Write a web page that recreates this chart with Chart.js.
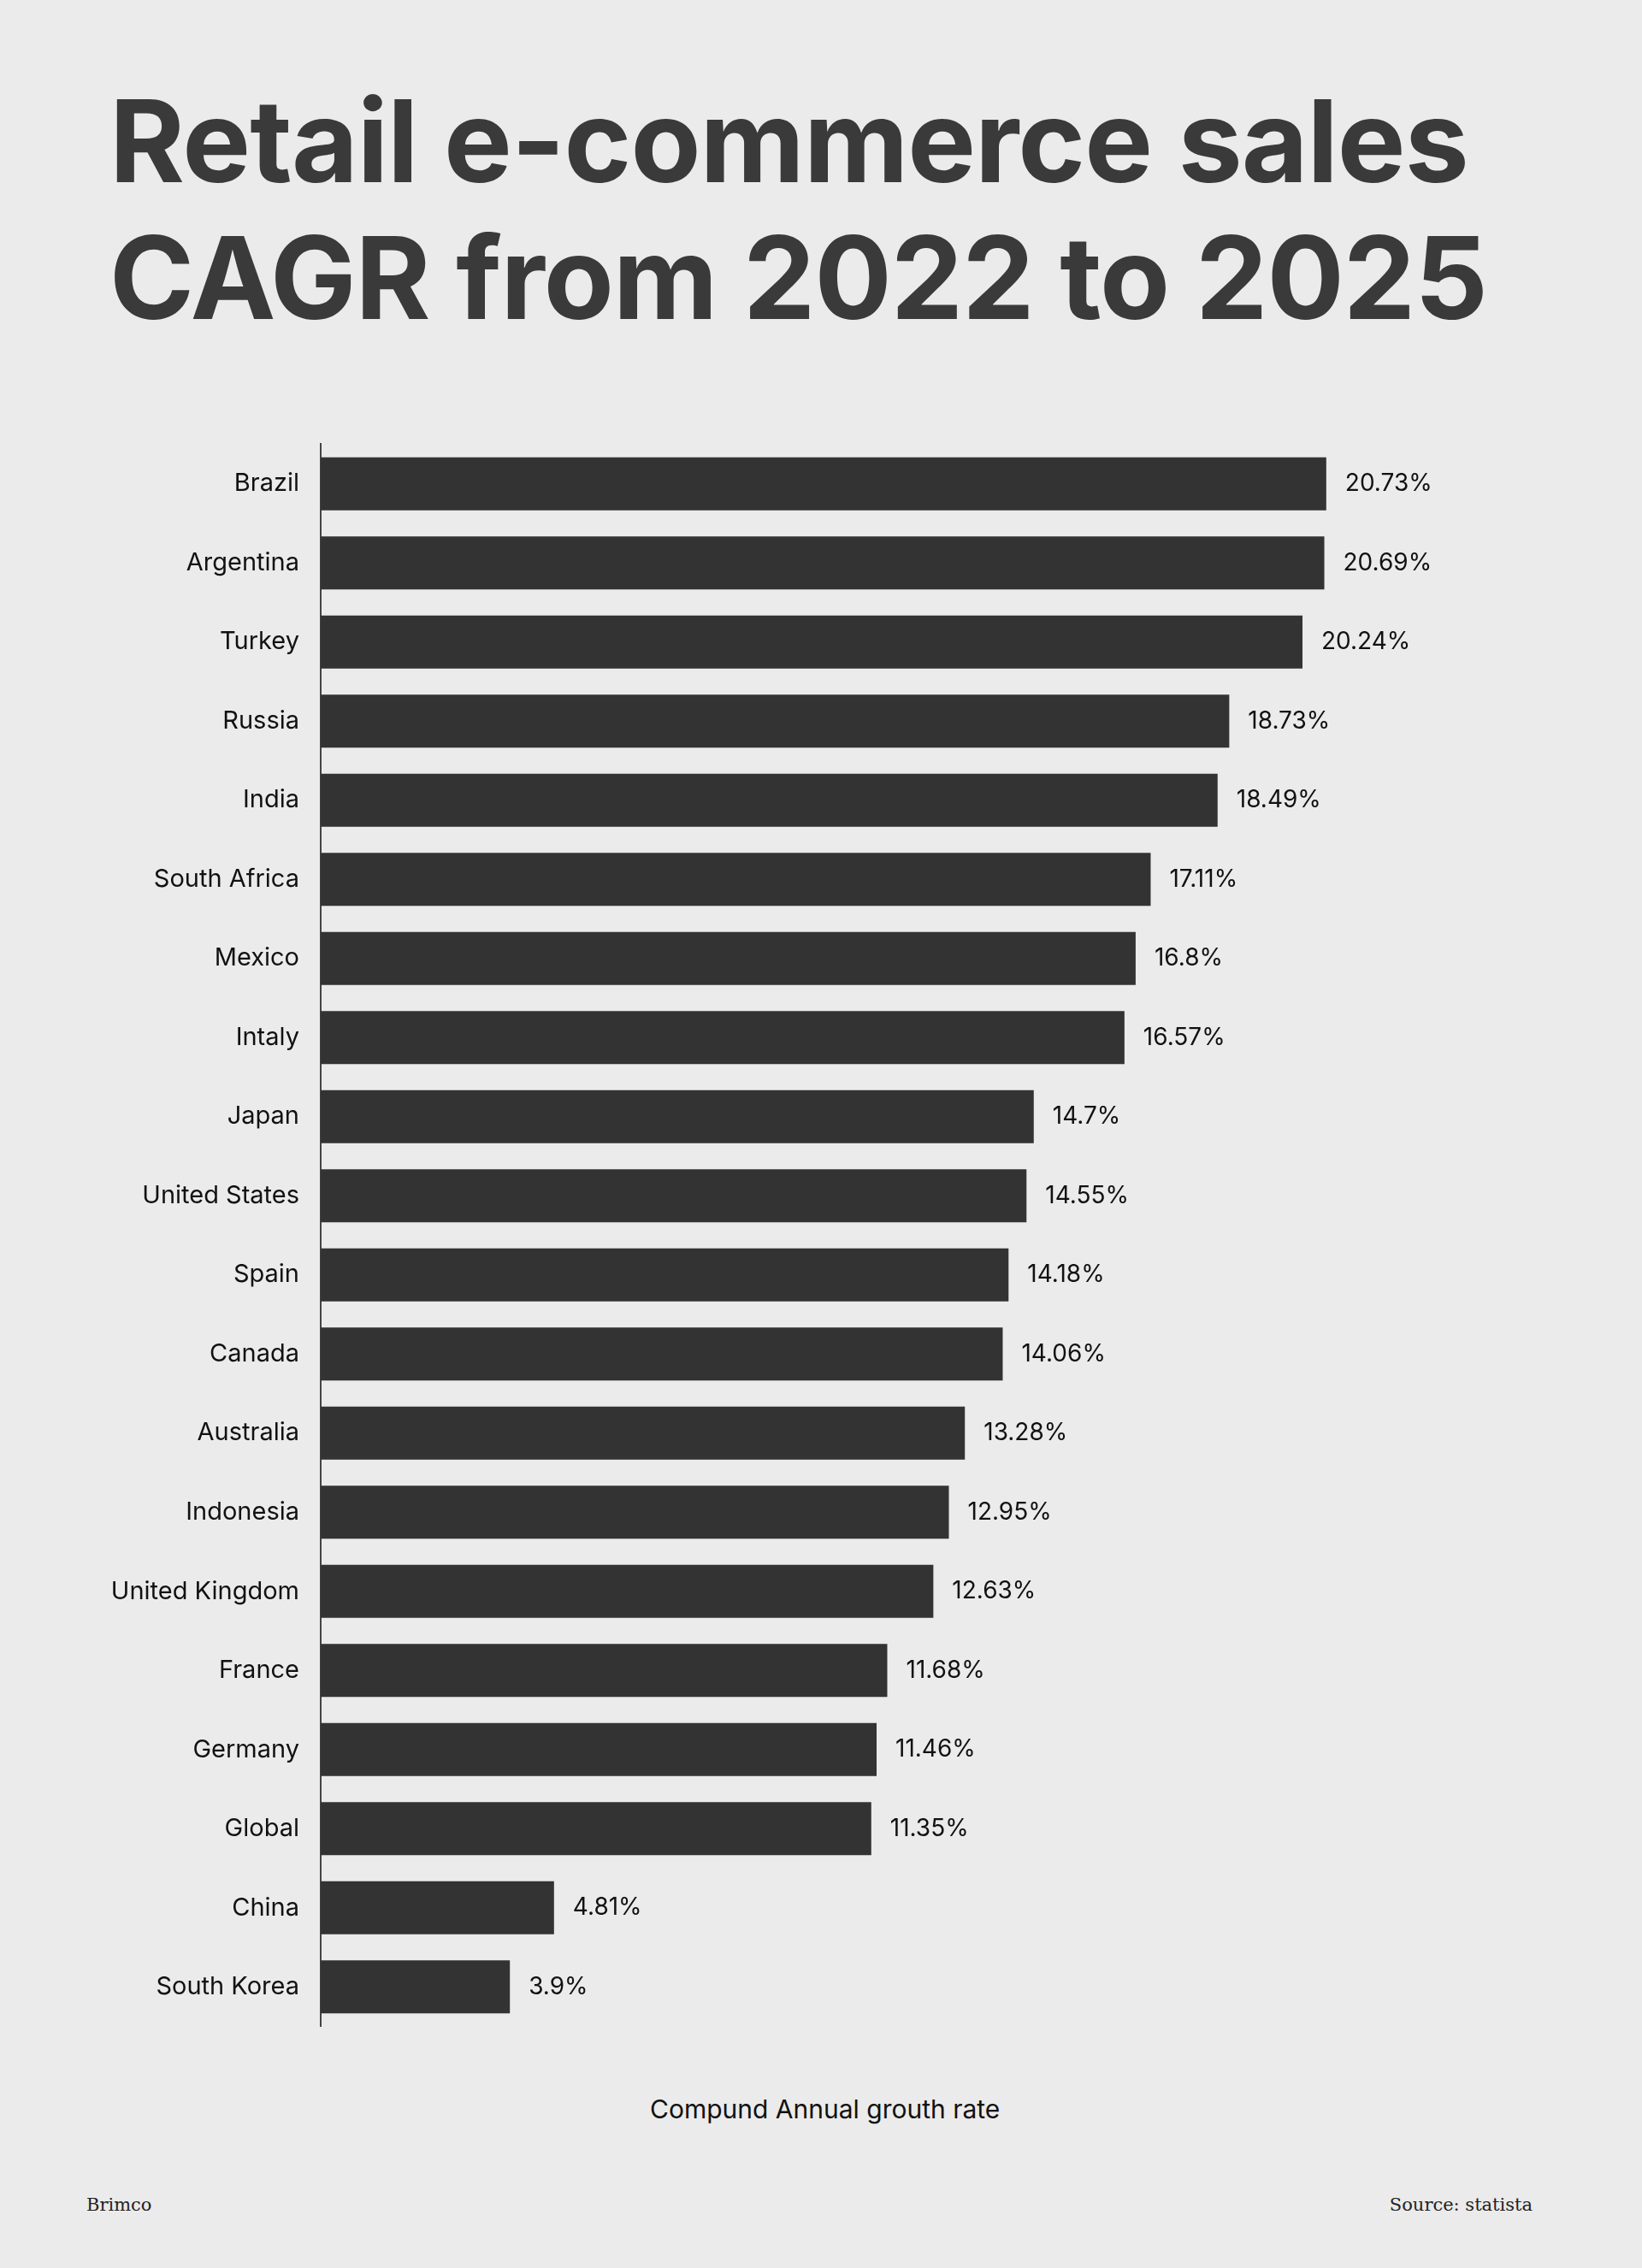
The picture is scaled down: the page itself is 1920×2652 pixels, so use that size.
<!DOCTYPE html>
<html><head><meta charset="utf-8">
<script src="https://cdn.jsdelivr.net/npm/chart.js@4"></script>
<style>
body{margin:0;width:1920px;height:2652px;background:#ebebeb;position:relative;font-family:Inter,sans-serif;overflow:hidden}
#t{position:absolute;left:128px;top:84px;font-weight:700;font-size:134px;line-height:160px;color:#3a3a3a;letter-spacing:-1px}
#c{position:absolute;left:0;top:477px}
.f{position:absolute;top:2566px;font-family:"DejaVu Serif",serif;font-size:21px;color:#222}
#xt{position:absolute;top:2448px;left:0;width:1920px;font-size:30px;color:#111}
</style></head><body>
<div id="t">Retail e-commerce sales<br>CAGR from 2022 to 2025</div>
<canvas id="c" width="1920" height="1935"></canvas>
<div id="xt"><span style="position:absolute;left:760px">Compund Annual grouth rate</span></div>
<div class="f" style="left:101px">Brimco</div>
<div class="f" style="right:128px">Source: statista</div>
<script>
const categories=["Brazil","Argentina","Turkey","Russia","India","South Africa","Mexico","Intaly","Japan","United States","Spain","Canada","Australia","Indonesia","United Kingdom","France","Germany","Global","China","South Korea"];
const values=[20.73,20.69,20.24,18.73,18.49,17.11,16.8,16.57,14.7,14.55,14.18,14.06,13.28,12.95,12.63,11.68,11.46,11.35,4.81,3.9];
const labelPlugin={id:'lbl',afterDatasetsDraw(ch){const ctx=ch.ctx;const m=ch.getDatasetMeta(0);ctx.save();ctx.font='28px Inter';ctx.fillStyle='#111';ctx.textBaseline='middle';
m.data.forEach((b,i)=>{ctx.fillText(values[i]+'%',b.x+22,b.y);});ctx.restore();}};
new Chart(document.getElementById('c'),{type:'bar',
data:{labels:categories,datasets:[{data:values,backgroundColor:'#333333',categoryPercentage:0.67,barPercentage:1}]},
options:{indexAxis:'y',responsive:false,animation:false,
layout:{padding:{top:0,bottom:0,right:127,left:0}},
plugins:{legend:{display:false},tooltip:{enabled:false}},
scales:{x:{min:0,max:25,display:false,grid:{display:false}},
y:{grid:{display:false,drawTicks:false},border:{display:true,color:'#444',width:2},
ticks:{color:'#111',font:{family:'Inter',size:29},padding:25},
afterFit(s){s.width=375;}}}},
plugins:[labelPlugin]});
</script></body></html>
